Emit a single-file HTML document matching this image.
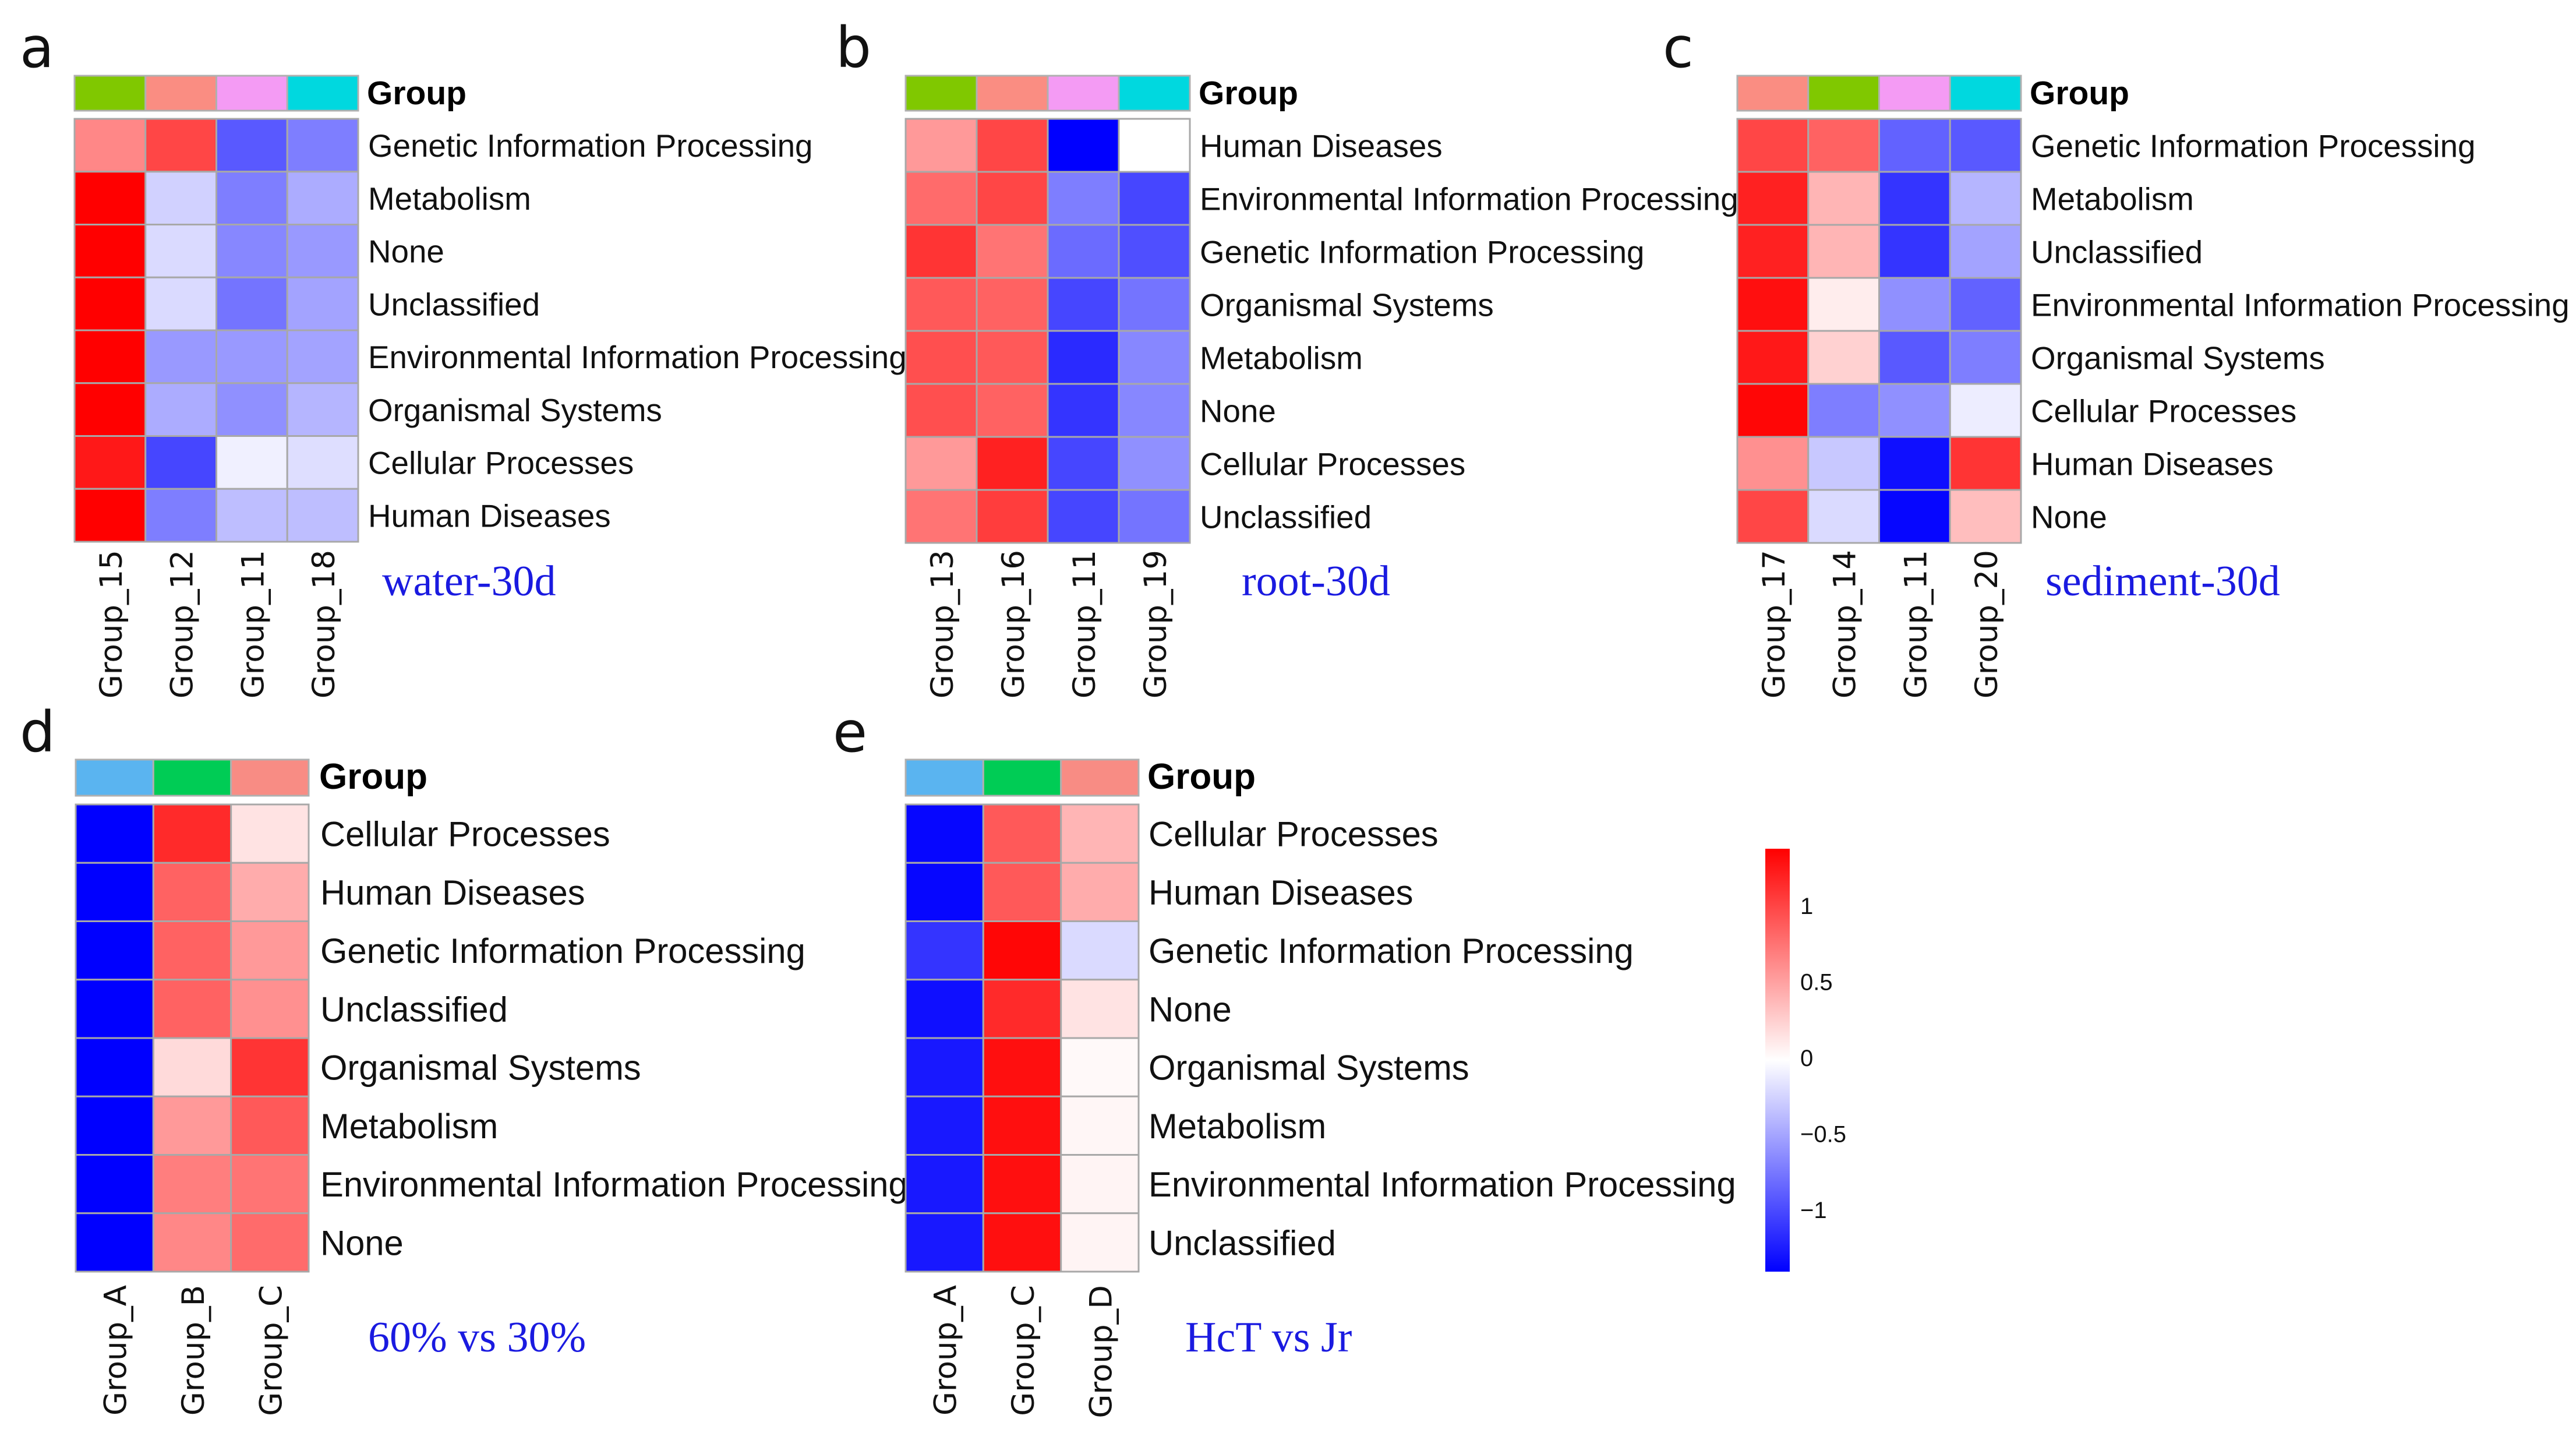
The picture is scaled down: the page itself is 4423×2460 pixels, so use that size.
<!DOCTYPE html>
<html><head><meta charset="utf-8"><style>
html,body{margin:0;padding:0;background:#fff;}
svg{display:block;}
</style></head><body>
<svg id="fig" width="4423" height="2460" viewBox="0 0 4423 2460" xmlns="http://www.w3.org/2000/svg">
<defs>
<linearGradient id="cbar" x1="0" y1="0" x2="0" y2="1">
<stop offset="0" stop-color="#ff0000"/><stop offset="0.5" stop-color="#ffffff"/><stop offset="1" stop-color="#0000ff"/>
</linearGradient>
</defs>
</svg>
<script>
// ---- data ----
const rowsA = ["Genetic Information Processing","Metabolism","None","Unclassified","Environmental Information Processing","Organismal Systems","Cellular Processes","Human Diseases"];
const colsA = ["Group_15","Group_12","Group_11","Group_18"];
const valsA = [[0.65,1.0,-0.9,-0.7],[1.4,-0.25,-0.7,-0.45],[1.4,-0.2,-0.65,-0.55],[1.4,-0.2,-0.75,-0.5],[1.4,-0.55,-0.55,-0.5],[1.4,-0.45,-0.6,-0.4],[1.25,-1.0,-0.08,-0.18],[1.4,-0.7,-0.35,-0.35]];
const groupColsA = ["#80c800","#fa8d82","#f49bf4","#00d8df"];

const rowsB = ["Human Diseases","Environmental Information Processing","Genetic Information Processing","Organismal Systems","Metabolism","None","Cellular Processes","Unclassified"];
const colsB = ["Group_13","Group_16","Group_11","Group_19"];
const valsB = [[0.55,1.0,-1.4,0.0],[0.8,1.0,-0.7,-1.0],[1.1,0.75,-0.8,-0.95],[0.9,0.85,-1.0,-0.75],[0.95,0.9,-1.15,-0.65],[0.95,0.85,-1.1,-0.65],[0.55,1.2,-1.0,-0.6],[0.75,1.05,-1.0,-0.75]];
const groupColsB = ["#80c800","#fa8d82","#f49bf4","#00d8df"];

const rowsC = ["Genetic Information Processing","Metabolism","Unclassified","Environmental Information Processing","Organismal Systems","Cellular Processes","Human Diseases","None"];
const colsC = ["Group_17","Group_14","Group_11","Group_20"];
const valsC = [[1.0,0.85,-0.85,-0.9],[1.2,0.4,-1.1,-0.4],[1.2,0.4,-1.1,-0.5],[1.3,0.1,-0.6,-0.85],[1.25,0.25,-0.9,-0.7],[1.35,-0.7,-0.6,-0.1],[0.6,-0.3,-1.3,1.1],[1.0,-0.2,-1.35,0.35]];
const groupColsC = ["#fa8d82","#80c800","#f49bf4","#00d8df"];

const rowsD = ["Cellular Processes","Human Diseases","Genetic Information Processing","Unclassified","Organismal Systems","Metabolism","Environmental Information Processing","None"];
const colsD = ["Group_A","Group_B","Group_C"];
const valsD = [[-1.4,1.15,0.15],[-1.4,0.85,0.45],[-1.4,0.85,0.55],[-1.4,0.85,0.6],[-1.4,0.2,1.1],[-1.4,0.55,0.9],[-1.4,0.7,0.75],[-1.4,0.65,0.8]];
const groupColsD = ["#5ab4f0","#00cc55","#f88c84"];

const rowsE = ["Cellular Processes","Human Diseases","Genetic Information Processing","None","Organismal Systems","Metabolism","Environmental Information Processing","Unclassified"];
const colsE = ["Group_A","Group_C","Group_D"];
const valsE = [[-1.35,0.9,0.4],[-1.35,0.9,0.45],[-1.1,1.35,-0.2],[-1.3,1.15,0.15],[-1.25,1.3,0.03],[-1.25,1.3,0.05],[-1.25,1.3,0.06],[-1.25,1.3,0.06]];
const groupColsE = ["#5ab4f0","#00cc55","#f88c84"];

const cbarTicks = [1,0.5,0,-0.5,-1];
const cbarLabels = ["1","0.5","0","\u22120.5","\u22121"];
const vmax = 1.38;

// ---- drawing ----
const NS = "http://www.w3.org/2000/svg";
const svg = document.getElementById("fig");
function mk(tag, attrs, parent){
  const e = document.createElementNS(NS, tag);
  for (const k in attrs) e.setAttribute(k, attrs[k]);
  (parent||svg).appendChild(e);
  return e;
}
function colorOf(v){
  let t = Math.min(Math.abs(v)/vmax,1);
  const c = Math.round(255*(1-t));
  return v>=0 ? `rgb(255,${c},${c})` : `rgb(${c},${c},255)`;
}
function panel(id, rows, cols, vals, gcols, x0, x1, gy0, gy1, hy0, hy1, labelX, fontSize, sx, colTop, title, tx, ty){
  const g = mk("g", {});
  
  
  const cw = (x1-x0)/cols.length, rh = (hy1-hy0)/rows.length;
  cols.forEach((c,j)=>{
    const r = mk("rect",{x:x0+j*cw,y:gy0,width:cw,height:gy1-gy0,fill:gcols[j],stroke:"#b0b0b0","stroke-width":3},g);
    
    
  });
  const gl = mk("text",{x:labelX-2,y:(gy0+gy1)/2+19,"font-family":"Liberation Sans, sans-serif","font-weight":"bold","font-size":fontSize+2},g);
  gl.textContent = "Group";
  
  
  rows.forEach((rn,i)=>{
    cols.forEach((c,j)=>{
      const r = mk("rect",{x:x0+j*cw,y:hy0+i*rh,width:cw,height:rh,fill:colorOf(vals[i][j]),stroke:"#a8a8a8","stroke-width":3},g);
      
      
    });
    const t = mk("text",{transform:`translate(${labelX},${hy0+(i+0.5)*rh+fontSize*0.36}) scale(${sx},1)`,"font-family":"Liberation Sans, sans-serif","font-size":fontSize,fill:"#111"},g);
    t.textContent = rn;
    
    
  });
  cols.forEach((c,j)=>{
    const cx = x0+(j+0.5)*cw;
    const t = mk("text",{transform:`translate(${cx+20},${colTop}) rotate(-90)`,"text-anchor":"end","font-family":"DejaVu Sans, sans-serif","font-size":53,fill:"#111"},g);
    t.textContent = c;
    
    
  });
  const tt = mk("text",{x:tx,y:ty,"font-family":"Liberation Serif, serif","font-size":74,fill:"#1a1ae0"},g);
  tt.textContent = title;
  
  
}
panel("a", rowsA, colsA, valsA, groupColsA, 128, 615, 130, 190, 204, 930, 632, 55, 0.995, 944, "water-30d", 656, 1022);
panel("b", rowsB, colsB, valsB, groupColsB, 1555, 2043, 130, 190, 204, 932, 2060, 55, 0.995, 944, "root-30d", 2132, 1022);
panel("c", rowsC, colsC, valsC, groupColsC, 2983, 3470, 130, 190, 204, 932, 3487, 55, 0.995, 944, "sediment-30d", 3512, 1022);
panel("d", rowsD, colsD, valsD, groupColsD, 130, 530, 1304, 1366, 1381, 2183, 550, 60, 0.995, 2206, "60% vs 30%", 632, 2320);
panel("e", rowsE, colsE, valsE, groupColsE, 1555, 1955, 1304, 1366, 1381, 2183, 1972, 60, 0.995, 2206, "HcT vs Jr", 2035, 2320);

// panel letters
[["a",34,115],["b",1435,115],["c",2855,115],["d",34,1290],["e",1430,1290]].forEach(p=>{
  const t = mk("text",{x:p[1],y:p[2],"font-family":"DejaVu Sans, sans-serif","font-size":96,fill:"#111"});
  t.textContent = p[0];
  
  
});

// colour bar
const cbTop = 1457, cbBot = 2183, cbZero = 1817, cbUnit = 261;
const cb = mk("rect",{x:3031,y:cbTop,width:42,height:cbBot-cbTop,fill:"url(#cbar)"});


cbarTicks.forEach((v,i)=>{
  const t = mk("text",{x:3091,y:cbZero - v*cbUnit + 13,"font-family":"Liberation Sans, sans-serif","font-size":40,fill:"#111"});
  t.textContent = cbarLabels[i];
  
  
});
</script>
</body></html>
